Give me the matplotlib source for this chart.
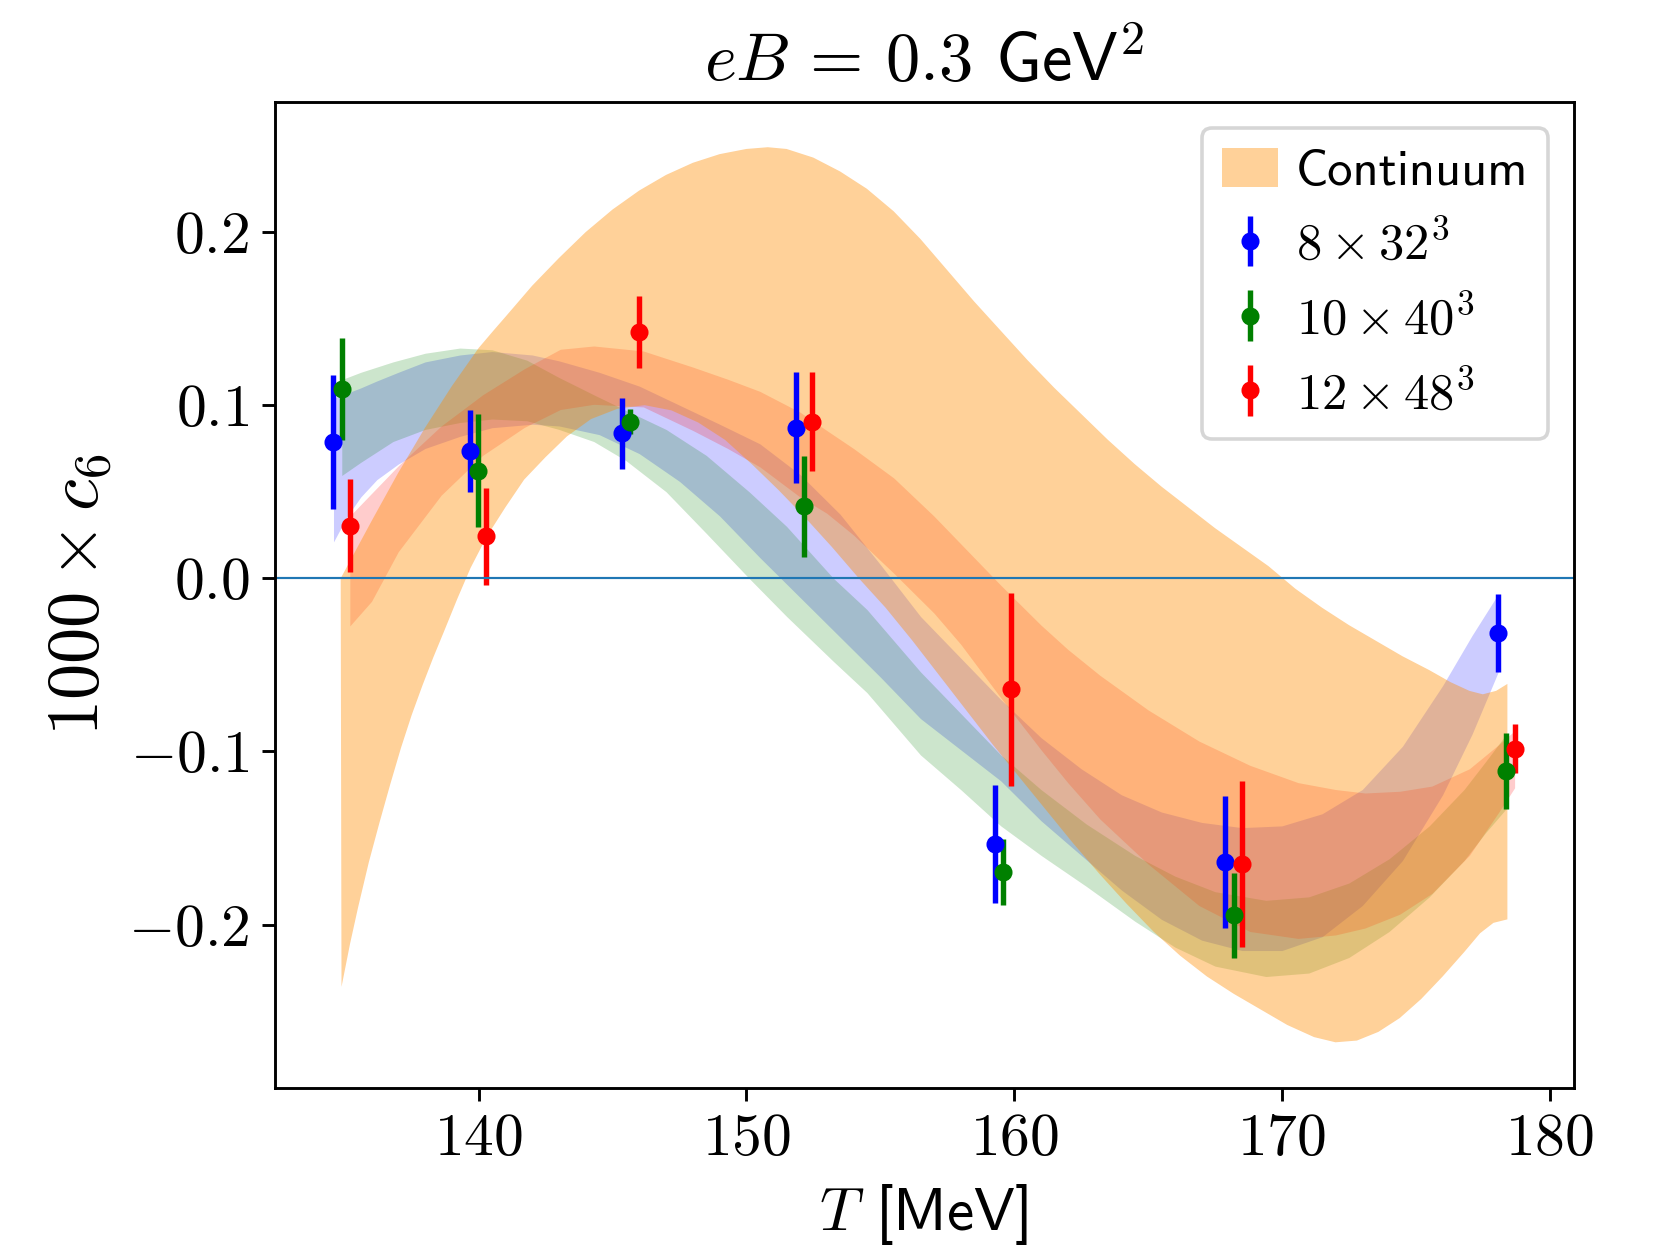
import numpy as np
import matplotlib
matplotlib.use("Agg")
import matplotlib.pyplot as plt
from matplotlib.ticker import FuncFormatter
from matplotlib.patches import Patch

# lattice data: temperature [MeV], 1000*c6 and its error
t_8 = [134.58, 139.68, 145.37, 151.86, 159.29, 167.89, 178.08]
c6_8 = [0.0785, 0.0737, 0.0837, 0.0871, -0.1533, -0.1639, -0.0317]
err_8 = [0.0387, 0.0237, 0.0205, 0.0322, 0.034, 0.038, 0.0225]

t_10 = [134.89, 139.97, 145.67, 152.15, 159.58, 168.20, 178.38]
c6_10 = [0.1095, 0.0622, 0.0904, 0.0416, -0.1696, -0.1946, -0.1113]
err_10 = [0.0295, 0.0325, 0.0073, 0.0293, 0.019, 0.0245, 0.0217]

t_12 = [135.19, 140.27, 145.98, 152.46, 159.88, 168.50, 178.69]
c6_12 = [0.0303, 0.0244, 0.1422, 0.0905, -0.0642, -0.1652, -0.0984]
err_12 = [0.0269, 0.028, 0.0209, 0.0286, 0.056, 0.048, 0.0143]

# spline bands for each lattice (upper / lower edge)
band_t_8 = [134.58, 135.1, 135.6, 136.2, 137.0, 138.0, 139.3, 140.5, 142.0, 143.0,
            144.5, 146.0, 147.5, 149.0, 150.5, 152.0, 153.5, 155.0, 156.5, 158.0,
            159.5, 161.0, 162.5, 164.0, 165.5, 167.0, 168.5, 170.0, 171.5, 173.0,
            174.5, 176.0, 177.1, 178.08]
band_hi_8 = [0.104, 0.107, 0.110, 0.114, 0.119, 0.125, 0.129, 0.131, 0.129, 0.1256,
             0.119, 0.111, 0.100, 0.089, 0.0777, 0.060, 0.037, 0.008, -0.022, -0.046,
             -0.070, -0.092, -0.110, -0.125, -0.135, -0.141, -0.144, -0.143, -0.136, -0.122,
             -0.097, -0.062, -0.033, -0.009]
band_lo_8 = [0.021, 0.036, 0.047, 0.057, 0.066, 0.075, 0.082, 0.087, 0.089, 0.088,
             0.083, 0.072, 0.056, 0.036, 0.012, -0.011, -0.034, -0.057, -0.081, -0.099,
             -0.117, -0.140, -0.160, -0.180, -0.197, -0.209, -0.215, -0.215, -0.207, -0.189,
             -0.163, -0.125, -0.090, -0.054]

band_t_10 = [134.89, 135.6, 136.8, 138.0, 139.3, 140.5, 141.8, 143.0, 144.3, 145.5,
             147.0, 148.5, 150.1, 151.5, 153.25, 154.5, 156.5, 158.0, 159.5, 161.0,
             162.7, 164.5, 166.0, 167.5, 169.4, 171.0, 172.5, 174.0, 175.5, 176.8,
             177.6, 178.38]
band_hi_10 = [0.1148, 0.119, 0.125, 0.130, 0.133, 0.132, 0.126, 0.116, 0.106, 0.097,
              0.086, 0.071, 0.050, 0.030, 0.0, -0.018, -0.054, -0.078, -0.102, -0.122,
              -0.142, -0.160, -0.172, -0.181, -0.186, -0.184, -0.176, -0.162, -0.143, -0.122,
              -0.106, -0.090]
band_lo_10 = [0.0594, 0.067, 0.079, 0.086, 0.090, 0.092, 0.091, 0.086, 0.079, 0.068,
              0.050, 0.026, 0.0, -0.022, -0.048, -0.066, -0.102, -0.122, -0.143, -0.160,
              -0.178, -0.198, -0.213, -0.224, -0.230, -0.228, -0.219, -0.204, -0.184, -0.163,
              -0.147, -0.133]

band_t_12 = [135.19, 136.0, 137.0, 138.6, 140.15, 141.7, 143.05, 144.3, 146.15, 148.0,
             149.3, 150.5, 152.0, 153.0, 154.0, 155.5, 157.0, 158.0, 159.5, 161.0,
             162.0, 163.2, 165.0, 166.9, 168.8, 170.6, 172.0, 173.1, 174.4, 175.6,
             177.0, 178.1, 178.69]
band_hi_12 = [0.036, 0.049, 0.065, 0.088, 0.106, 0.121, 0.1323, 0.1342, 0.1313, 0.122,
              0.115, 0.108, 0.096, 0.0854, 0.075, 0.058, 0.036, 0.020, -0.004, -0.027,
              -0.041, -0.056, -0.076, -0.094, -0.108, -0.118, -0.122, -0.124, -0.123, -0.120,
              -0.110, -0.096, -0.088]
band_lo_12 = [-0.0275, -0.0133, 0.0154, 0.048, 0.071, 0.0871, 0.0975, 0.1005, 0.099, 0.0854,
              0.075, 0.0644, 0.047, 0.0376, 0.025, 0.003, -0.020, -0.038, -0.069, -0.099,
              -0.118, -0.139, -0.165, -0.189, -0.204, -0.208, -0.206, -0.202, -0.194, -0.182,
              -0.160, -0.135, -0.121]

# continuum extrapolation band
cont_t_hi = [134.85, 136.0, 137.0, 138.0, 139.0, 140.0, 140.55, 141.0, 142.0, 143.0,
             144.0, 145.0, 146.0, 147.0, 148.0, 149.0, 150.0, 150.8, 151.5, 152.5,
             153.5, 154.5, 155.5, 156.5, 157.5, 158.5, 159.5, 160.5, 161.5, 162.5,
             163.5, 164.5, 165.5, 166.5, 167.5, 168.5, 169.5, 170.5, 171.5, 172.5,
             173.5, 174.5, 175.5, 176.3, 177.0, 177.5, 178.0, 178.42]
cont_hi = [0.0, 0.033, 0.061, 0.087, 0.111, 0.133, 0.143, 0.151, 0.169, 0.185,
           0.200, 0.213, 0.224, 0.233, 0.240, 0.245, 0.248, 0.249, 0.248, 0.243,
           0.235, 0.225, 0.212, 0.196, 0.178, 0.160, 0.143, 0.126, 0.110, 0.095,
           0.080, 0.066, 0.053, 0.041, 0.029, 0.018, 0.007, -0.006, -0.017, -0.027,
           -0.036, -0.045, -0.053, -0.060, -0.065, -0.067, -0.065, -0.061]
cont_t_lo = [134.88, 135.2, 135.5, 135.9, 136.3, 136.7, 137.1, 137.5, 137.9, 138.3,
             138.7, 139.2, 139.7, 140.3, 141.0, 141.7, 142.5, 143.3, 144.2, 145.2,
             146.2, 147.2, 148.2, 149.2, 150.2, 151.2, 152.2, 153.2, 154.2, 155.2,
             156.2, 157.2, 158.2, 159.2, 160.2, 161.2, 162.2, 163.2, 164.2, 165.2,
             166.2, 167.2, 168.2, 169.2, 170.2, 171.2, 172.0, 172.8, 173.6, 174.4,
             175.2, 176.0, 176.8, 177.4, 177.9, 178.42]
cont_lo = [-0.236, -0.211, -0.190, -0.164, -0.141, -0.119, -0.098, -0.079, -0.062, -0.046,
           -0.031, -0.012, 0.006, 0.024, 0.041, 0.057, 0.070, 0.082, 0.092, 0.098,
           0.100, 0.097, 0.090, 0.080, 0.066, 0.051, 0.035, 0.018, 0.0, -0.017,
           -0.036, -0.056, -0.076, -0.096, -0.115, -0.134, -0.153, -0.171, -0.188, -0.204,
           -0.218, -0.230, -0.240, -0.249, -0.258, -0.265, -0.268, -0.267, -0.262, -0.254,
           -0.243, -0.230, -0.216, -0.205, -0.199, -0.197]


def main():
    plt.rcParams["mathtext.fontset"] = "cm"
    plt.rcParams["font.family"] = "cmss10"
    plt.rcParams["axes.unicode_minus"] = False

    fig = plt.figure(figsize=(1656 / 260, 1247 / 260), dpi=260)
    ax = fig.add_axes([0.1658, 0.1275, 0.7844, 0.7904])

    lattices = [
        (t_8, c6_8, err_8, band_t_8, band_hi_8, band_lo_8, "blue", r"$8 \times 32^3$"),
        (t_10, c6_10, err_10, band_t_10, band_hi_10, band_lo_10, "green", r"$10 \times 40^3$"),
        (t_12, c6_12, err_12, band_t_12, band_hi_12, band_lo_12, "red", r"$12 \times 48^3$"),
    ]

    handles = []
    for t, c6, err, bt, bhi, blo, col, lab in lattices:
        ax.fill_between(bt, blo, bhi, color=col, alpha=0.2, lw=0)
    for t, c6, err, bt, bhi, blo, col, lab in lattices:
        h = ax.errorbar(t, c6, yerr=err, fmt="o", color=col, ms=4, label=lab)
        handles.append(h)

    poly_t = np.concatenate([cont_t_hi, cont_t_lo[::-1]])
    poly_v = np.concatenate([cont_hi, cont_lo[::-1]])
    ax.fill(poly_t, poly_v, color="darkorange", alpha=0.4, lw=0, zorder=1.5)
    cont_patch = Patch(color="darkorange", alpha=0.4, lw=0, label="Continuum")

    ax.axhline(0.0, color="C0", lw=0.6)

    ax.set_xlim(132.38, 180.89)
    ax.set_ylim(-0.2944, 0.2749)
    ax.set_xticks([140, 150, 160, 170, 180])
    ax.set_yticks([-0.2, -0.1, 0.0, 0.1, 0.2])
    ax.xaxis.set_major_formatter(FuncFormatter(lambda v, p: r"$%d$" % round(v)))
    ax.yaxis.set_major_formatter(FuncFormatter(lambda v, p: r"$%.1f$" % v))
    ax.tick_params(labelsize=16.5)

    ax.set_xlabel(r"$T$ [MeV]", fontsize=17)
    ax.set_ylabel(r"$1000 \times c_6$", fontsize=20)
    ax.set_title(r"$eB \,=\, 0.3$ GeV$^2$", fontsize=19)

    ax.legend(handles=[cont_patch] + handles, loc="upper right", fontsize=14,
              handlelength=1.1, handleheight=0.8, handletextpad=0.35)

    fig.savefig("out.png", dpi=260)


if __name__ == "__main__":
    main()
